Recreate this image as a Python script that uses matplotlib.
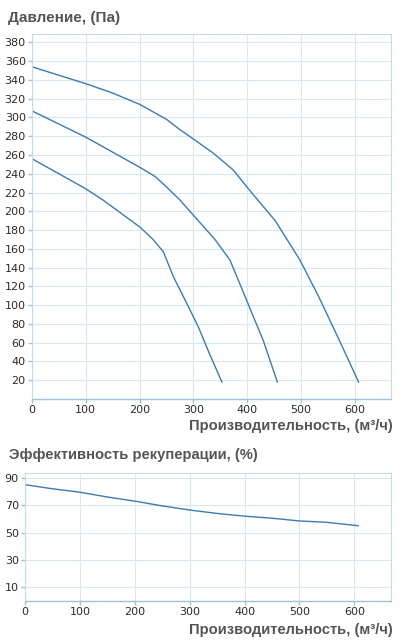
import matplotlib
matplotlib.use('Agg')
import matplotlib.pyplot as plt

# Pressure curves (flow m3/h, pressure Pa)
flow_high = [0, 50, 100, 150, 200, 250, 275, 300, 337, 374, 405, 452, 498, 532, 570, 607]
pres_high = [354, 345, 336, 326, 314, 298, 287, 277, 262, 244, 222, 190, 148, 110, 64, 18]

flow_mid = [0, 50, 100, 150, 200, 229, 250, 275, 309, 340, 368, 399, 430, 456]
pres_mid = [307, 293, 279, 263, 247, 237, 226, 212, 190, 170, 148, 105, 62, 18]

flow_low = [0, 50, 100, 132, 163, 201, 225, 244, 263, 285, 309, 330, 353]
pres_low = [256, 240, 224, 212, 199, 183, 170, 157, 130, 105, 77, 48, 18]

# Heat recovery efficiency
flow_eff = [0, 50, 100, 150, 200, 250, 300, 350, 400, 450, 500, 550, 607]
eff = [85, 82, 79.5, 76, 73, 69.5, 66.5, 64, 62, 60.5, 58.5, 57.5, 55]

pres_ticks = list(range(20, 381, 20))
eff_ticks = [10, 30, 50, 70, 90]
flow_ticks = [0, 100, 200, 300, 400, 500, 600]

line_color = '#3b7bb2'
grid_color = '#d8e8f1'
spine_color = '#c2dcea'
axis_color = '#9cc3dc'
title_color = '#555555'
label_font = ['Liberation Sans', 'DejaVu Sans']

fig = plt.figure(figsize=(4.06, 6.43), dpi=100)


def style_axes(ax, yticks):
    ax.set_xlim(0, 667)
    ax.set_xticks(flow_ticks)
    ax.set_yticks(yticks)
    ax.grid(True, color=grid_color, linewidth=0.8)
    ax.set_axisbelow(True)
    for side in ['top', 'right', 'left']:
        ax.spines[side].set_color(spine_color)
        ax.spines[side].set_linewidth(0.8)
    ax.spines['bottom'].set_color(axis_color)
    ax.spines['bottom'].set_linewidth(1.0)
    ax.tick_params(axis='both', length=3, width=1, color=axis_color,
                   labelsize=8, labelcolor='#2a2a2a', pad=1.5)


ax1 = fig.add_axes([0.0788, 0.3795, 0.884, 0.5677])
ax1.plot(flow_high, pres_high, color=line_color, linewidth=1.0)
ax1.plot(flow_mid, pres_mid, color=line_color, linewidth=1.0)
ax1.plot(flow_low, pres_low, color=line_color, linewidth=1.0)
ax1.set_ylim(0, 389)
style_axes(ax1, pres_ticks)

ax2 = fig.add_axes([0.0616, 0.0653, 0.9015, 0.199])
ax2.plot(flow_eff, eff, color=line_color, linewidth=1.0)
ax2.set_ylim(0, 93.5)
style_axes(ax2, eff_ticks)

fig.text(8 / 406, 1 - 18 / 643, 'Давление, (Па)', fontsize=11, fontweight='bold',
         color=title_color, family=label_font, ha='left', va='center')
fig.text(393 / 406, 1 - 426 / 643, 'Производительность, (м³/ч)', fontsize=10.6,
         fontweight='bold', color=title_color, family=label_font, ha='right', va='center')
fig.text(9 / 406, 1 - 455 / 643, 'Эффективность рекуперации, (%)', fontsize=10.6,
         fontweight='bold', color=title_color, family=label_font, ha='left', va='center')
fig.text(393 / 406, 1 - 630 / 643, 'Производительность, (м³/ч)', fontsize=10.6,
         fontweight='bold', color=title_color, family=label_font, ha='right', va='center')

fig.savefig('out.png', dpi=100)
